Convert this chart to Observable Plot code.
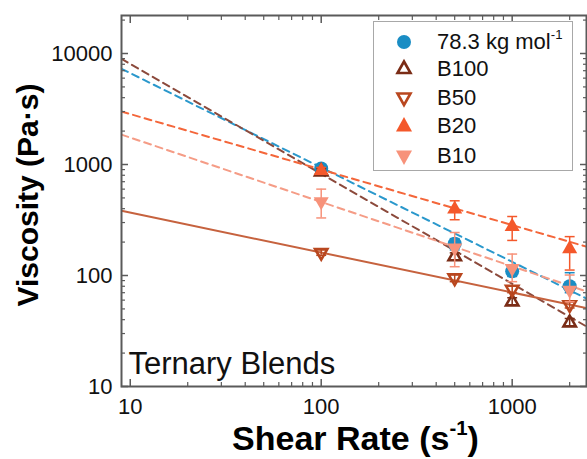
<!DOCTYPE html>
<html><head><meta charset="utf-8">
<script src="https://cdn.jsdelivr.net/npm/d3@7"></script>
<script src="https://cdn.jsdelivr.net/npm/@observablehq/plot@0.6"></script>
<style>
body{margin:0;background:#fff;font-family:"Liberation Sans",Arial,sans-serif;}
#wrap{position:relative;width:587px;height:459px;overflow:hidden;background:#fff}
#wrap svg.plot{position:absolute;left:0;top:0}
.xt{position:absolute;left:0;width:711px;text-align:center;top:421px;font-weight:bold;font-size:34px;line-height:34px;color:#000;white-space:nowrap}
.yt{position:absolute;left:28px;top:195px;font-weight:bold;font-size:30px;line-height:30px;color:#000;white-space:nowrap;transform:translate(-50%,-50%) rotate(-90deg)}
sup{font-size:60%;vertical-align:0;position:relative;top:-0.75em}
.leg{position:absolute;left:373px;top:21px;width:200px;height:150px;box-sizing:border-box;border:1px solid #a8a8a8;background:#fff}
.row{position:absolute;left:0;height:28px;width:198px}
.row svg{position:absolute;left:18px;top:0}
.row span{position:absolute;left:63px;top:0;font-size:22px;line-height:28px;color:#111;white-space:nowrap}
</style></head><body><div id="wrap"></div>
<script>
// ---- data ----
const shearRates = [100, 500, 1000, 2000];
const seriesNames = ["78.3 kg mol-1", "B100", "B50", "B20", "B10"];
const seriesColors = ["#1a8dc4", "#7a2c16", "#b9471f", "#f4582b", "#f7927a"];
const lineColors = ["#2a98cc", "#8c4a3c", "#c6623e", "#f4663a", "#f59c86"];
const v783  = [920, 193, 109, 80];
const vB100 = [860, 148, 58, 37.5];
const vB50  = [161, 95, 75, 54.5];
const vB20  = [880, 396, 276, 174];
const vB10  = [464, 177, 116, 74];
// error bars (low / high)
const e783Low  = [850, 170, 98, 70];
const e783High = [990, 215, 122, 106];
const eB100Low  = [800, 138, 54, 35];
const eB100High = [920, 160, 63, 41];
const eB50Low  = [152, 88, 70, 51];
const eB50High = [170, 102, 80, 58];
const eB20Low  = [830, 318, 207, 112];
const eB20High = [940, 471, 340, 224];
const eB10Low  = [330, 120, 88, 58];
const eB10High = [600, 244, 156, 101];
// power-law fits: value at 100 s^-1 and exponent
const fitAt100 = [940, 824, 161, 900, 460];
const fitSlope = [-0.85, -0.99, -0.36, -0.5, -0.58];
const fitDash  = [true, true, false, true, true];
const xMajor = [10, 100, 1000];
const xMinor = [20,30,40,50,60,70,80,90,200,300,400,500,600,700,800,900,2000];
const yMajor = [10, 100, 1000, 10000];
const yMinor = [20,30,40,50,60,70,80,90,200,300,400,500,600,700,800,900,2000,3000,4000,5000,6000,7000,8000,9000,20000];
const xDomain = [9.0, 2450];
const yDomain = [10, 22000];

// ---- build tables ----
const values = [v783, vB100, vB50, vB20, vB10];
const lows = [e783Low, eB100Low, eB50Low, eB20Low, eB10Low];
const highs = [e783High, eB100High, eB50High, eB20High, eB10High];
const pts = [];
seriesNames.forEach((s, i) => shearRates.forEach((x, j) => pts.push({s, i, x, y: values[i][j], lo: lows[i][j], hi: highs[i][j]})));
const fits = [];
seriesNames.forEach((s, i) => xDomain.forEach(x => fits.push({s, i, x, y: fitAt100[i] * Math.pow(x / 100, fitSlope[i])})));

const s3 = Math.sqrt(3);
const triUp = {draw(c, size){const y = -Math.sqrt(size/(s3*3)); c.moveTo(0, y*2); c.lineTo(-s3*y, -y); c.lineTo(s3*y, -y); c.closePath();}};
const triDown = {draw(c, size){const y = Math.sqrt(size/(s3*3)); c.moveTo(0, y*2); c.lineTo(-s3*y, -y); c.lineTo(s3*y, -y); c.closePath();}};
const capSym = {draw(c, size){const w = Math.sqrt(size); c.moveTo(-w, 0); c.lineTo(w, 0);}};
const symbols = [null, triUp, triDown, triUp, triDown];
const filled = [true, false, false, true, true];

const marks = [];
// fit lines
seriesNames.forEach((s, i) => {
  marks.push(Plot.line(fits.filter(d => d.i === i), {x: "x", y: "y", stroke: lineColors[i], strokeWidth: 2, strokeDasharray: fitDash[i] ? "7,5" : null, clip: true}));
});
// error bars + markers
seriesNames.forEach((s, i) => {
  const d = pts.filter(p => p.i === i);
  const c = i === 0 ? seriesColors[0] : seriesColors[i];
  marks.push(Plot.ruleX(d, {x: "x", y1: "lo", y2: "hi", stroke: c, strokeWidth: 1.5}));
  marks.push(Plot.dot(d, {x: "x", y: "lo", symbol: capSym, r: 2.8, stroke: c, strokeWidth: 1.5}));
  marks.push(Plot.dot(d, {x: "x", y: "hi", symbol: capSym, r: 2.8, stroke: c, strokeWidth: 1.5}));
  if (i === 0) {
    marks.push(Plot.dot(d, {x: "x", y: "y", r: 7, fill: c, stroke: "none"}));
  } else if (filled[i]) {
    marks.push(Plot.dot(d, {x: "x", y: "y", symbol: symbols[i], r: 5.6, fill: c, stroke: "none"}));
  } else {
    marks.push(Plot.dot(d, {x: "x", y: "y", symbol: symbols[i], r: 4.6, fill: "white", fillOpacity: 0, stroke: c, strokeWidth: 2.6, strokeLinejoin: "miter"}));
  }
});
const axisCol = "#5a5a5a";
// inward ticks on all four sides
marks.push(
  Plot.axisX({anchor: "bottom", ticks: xMajor, tickSize: 7, dy: -7, fill: "none", label: null, stroke: axisCol, strokeWidth: 1.5}),
  Plot.axisX({anchor: "bottom", ticks: xMinor, tickSize: 4, dy: -4, fill: "none", label: null, stroke: axisCol, strokeWidth: 1.2}),
  Plot.axisX({anchor: "top", ticks: xMajor, tickSize: 7, dy: 7, fill: "none", label: null, stroke: axisCol, strokeWidth: 1.5}),
  Plot.axisX({anchor: "top", ticks: xMinor, tickSize: 4, dy: 4, fill: "none", label: null, stroke: axisCol, strokeWidth: 1.2}),
  Plot.axisY({anchor: "left", ticks: yMajor, tickSize: 7, dx: 7, fill: "none", label: null, stroke: axisCol, strokeWidth: 1.5}),
  Plot.axisY({anchor: "left", ticks: yMinor, tickSize: 4, dx: 4, fill: "none", label: null, stroke: axisCol, strokeWidth: 1.2}),
  Plot.axisY({anchor: "right", ticks: yMajor, tickSize: 7, dx: -7, fill: "none", label: null, stroke: axisCol, strokeWidth: 1.5}),
  Plot.axisY({anchor: "right", ticks: yMinor, tickSize: 4, dx: -4, fill: "none", label: null, stroke: axisCol, strokeWidth: 1.2}),
  Plot.axisX({anchor: "bottom", ticks: xMajor, tickSize: 0, tickPadding: 12, tickFormat: d => String(d), label: null, fill: "#111"}),
  Plot.axisY({anchor: "left", ticks: yMajor, tickSize: 0, tickPadding: 9, tickFormat: d => String(d), label: null, fill: "#111"}),
  Plot.frame({stroke: axisCol, strokeWidth: 2}),
  Plot.text(["Ternary Blends"], {frameAnchor: "bottom-left", dx: 7, dy: -13, lineAnchor: "bottom", textAnchor: "start", fontSize: 31, fill: "#111"})
);

const chart = Plot.plot({
  width: 587, height: 459,
  marginLeft: 121, marginRight: 1, marginTop: 15, marginBottom: 73,
  x: {type: "log", domain: xDomain},
  y: {type: "log", domain: yDomain},
  style: {fontFamily: "'Liberation Sans', Arial, sans-serif", fontSize: "22px", background: "white", overflow: "visible"},
  marks
});
chart.classList.add("plot");
const wrap = document.getElementById("wrap");
wrap.appendChild(chart);

// axis titles
const xt = document.createElement("div");
xt.className = "xt";
xt.innerHTML = "Shear Rate (s<sup>-1</sup>)";
wrap.appendChild(xt);
const yt = document.createElement("div");
yt.className = "yt";
yt.innerHTML = "Viscosity (Pa·s)";
wrap.appendChild(yt);

// legend
const leg = document.createElement("div");
leg.className = "leg";
const rowTops = [6, 33, 62, 90, 120];
function symSvg(i) {
  const c = seriesColors[i];
  let inner;
  if (i === 0) inner = `<circle cx="12" cy="14" r="7" fill="${c}"/>`;
  else if (i === 1) inner = `<path d="M12,6.5 L18.5,18 L5.5,18 Z" fill="none" stroke="${c}" stroke-width="2.6"/>`;
  else if (i === 2) inner = `<path d="M12,21 L18.5,9.5 L5.5,9.5 Z" fill="none" stroke="${c}" stroke-width="2.6"/>`;
  else if (i === 3) inner = `<path d="M12,5 L20,19.5 L4,19.5 Z" fill="${c}"/>`;
  else inner = `<path d="M12,23 L20,8.5 L4,8.5 Z" fill="${c}"/>`;
  return `<svg width="24" height="28" viewBox="0 0 24 28">${inner}</svg>`;
}
seriesNames.forEach((s, i) => {
  const r = document.createElement("div");
  r.className = "row";
  r.style.top = rowTops[i] + "px";
  const label = i === 0 ? "78.3 kg mol<sup>-1</sup>" : s;
  r.innerHTML = symSvg(i) + `<span>${label}</span>`;
  leg.appendChild(r);
});
wrap.appendChild(leg);
</script></body></html>
